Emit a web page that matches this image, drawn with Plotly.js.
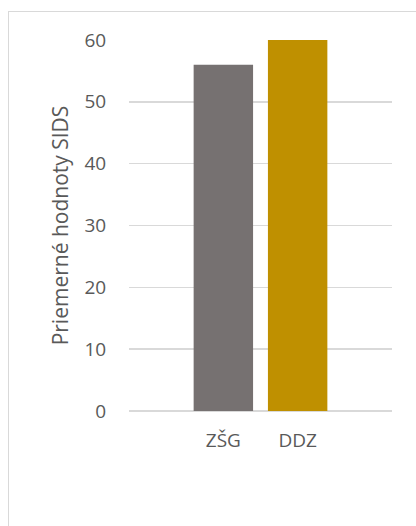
<!DOCTYPE html>
<html>
<head>
<meta charset="utf-8">
<script src="https://cdn.plot.ly/plotly-3.0.1.min.js"></script>
<style>
  html, body { margin: 0; padding: 0; background: #fff; overflow: hidden; }
  #frame {
    position: absolute; left: 8px; top: 11px; width: 600px; height: 700px;
    border-left: 1px solid #d9d9d9; border-top: 1px solid #d9d9d9;
    pointer-events: none;
  }
  #chart { position: absolute; left: 0; top: 0; width: 416px; height: 526px; }
</style>
</head>
<body>
<div id="frame"></div>
<div id="chart"></div>
<script>
// Average SIDS values per group
const categories = ['ZŠG', 'DDZ'];
const values = [56, 60];
const barColors = ['#767171', '#BF9000'];
const yTicks = [0, 10, 20, 30, 40, 50, 60];

const textFont = { family: 'Open Sans, sans-serif', size: 19, color: '#595959' };
const titleFont = { family: 'Open Sans, sans-serif', size: 21, color: '#595959' };

const trace = {
  type: 'bar',
  x: categories,
  y: values,
  width: 0.8,
  marker: { color: barColors },
  hoverinfo: 'x+y'
};

const layout = {
  width: 416,
  height: 526,
  margin: { l: 129, r: 24, t: 40, b: 115 },
  paper_bgcolor: 'rgba(0,0,0,0)',
  plot_bgcolor: 'rgba(0,0,0,0)',
  showlegend: false,
  font: textFont,
  xaxis: {
    type: 'category',
    range: [-1.27, 2.27],
    showgrid: false,
    showline: false,
    zeroline: false,
    ticks: 'outside',
    ticklen: 12,
    tickcolor: 'rgba(0,0,0,0)',
    tickfont: textFont,
    fixedrange: true
  },
  yaxis: {
    range: [0, 60],
    tickvals: yTicks,
    ticktext: yTicks.map(String),
    showgrid: true,
    gridcolor: '#d9d9d9',
    gridwidth: 1.5,
    zeroline: true,
    zerolinecolor: '#d9d9d9',
    zerolinewidth: 2,
    showline: false,
    ticks: 'outside',
    ticklen: 18,
    tickcolor: 'rgba(0,0,0,0)',
    tickfont: textFont,
    title: { text: 'Priemerné hodnoty SIDS', font: titleFont, standoff: 10 },
    fixedrange: true
  }
};

Plotly.newPlot('chart', [trace], layout, { displayModeBar: false, staticPlot: true });
</script>
</body>
</html>
